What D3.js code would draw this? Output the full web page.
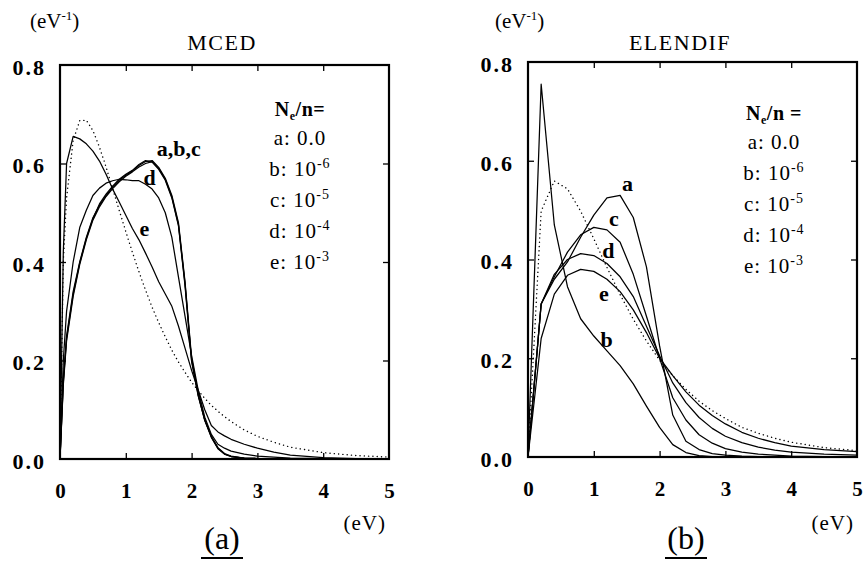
<!DOCTYPE html>
<html>
<head>
<meta charset="utf-8">
<script src="https://cdn.jsdelivr.net/npm/d3@7"></script>
<style>
  html, body { margin: 0; padding: 0; background: #fff; }
  svg { display: block; }
</style>
</head>
<body>
<svg id="chart" width="864" height="561"></svg>
<script>
// ---------------- DATA ----------------
const xTicks = [0, 1, 2, 3, 4, 5];
const yTicks = [0.0, 0.2, 0.4, 0.6, 0.8];
const yTickLabels = ["0.0", "0.2", "0.4", "0.6", "0.8"];

// Panel (a) MCED: energy grid (eV) and EEDF values (eV^-1)
const mcedE    = [0, 0.05, 0.1, 0.2, 0.3, 0.4, 0.5, 0.6, 0.7, 0.8, 0.9, 1.0, 1.1, 1.2, 1.3, 1.4, 1.5, 1.6, 1.7, 1.8, 1.9, 2.0, 2.1, 2.2, 2.3, 2.4, 2.5, 2.6, 2.8, 3.0, 3.25, 3.5, 4.0, 4.5, 5.0];
const mcedMaxw = [0, 0.40, 0.53, 0.647, 0.687, 0.688, 0.667, 0.633, 0.593, 0.549, 0.505, 0.462, 0.42, 0.38, 0.343, 0.308, 0.277, 0.248, 0.221, 0.197, 0.176, 0.156, 0.139, 0.123, 0.109, 0.097, 0.086, 0.076, 0.059, 0.046, 0.034, 0.024, 0.013, 0.007, 0.004];
const mcedA    = [0, 0.16, 0.25, 0.34, 0.40, 0.45, 0.49, 0.515, 0.535, 0.552, 0.566, 0.576, 0.585, 0.596, 0.604, 0.606, 0.592, 0.570, 0.535, 0.480, 0.360, 0.205, 0.132, 0.080, 0.045, 0.022, 0.010, 0.005, 0.002, 0.001, 0, 0, 0, 0, 0];
const mcedB    = [0, 0.15, 0.24, 0.33, 0.395, 0.445, 0.485, 0.512, 0.533, 0.549, 0.563, 0.574, 0.583, 0.593, 0.600, 0.604, 0.590, 0.568, 0.532, 0.476, 0.356, 0.200, 0.130, 0.078, 0.044, 0.021, 0.010, 0.005, 0.002, 0.001, 0, 0, 0, 0, 0];
const mcedC    = [0, 0.155, 0.245, 0.335, 0.398, 0.448, 0.488, 0.518, 0.538, 0.554, 0.568, 0.578, 0.586, 0.598, 0.606, 0.603, 0.588, 0.566, 0.530, 0.474, 0.352, 0.198, 0.128, 0.079, 0.046, 0.023, 0.011, 0.006, 0.002, 0.001, 0, 0, 0, 0, 0];
const mcedD    = [0, 0.20, 0.30, 0.40, 0.47, 0.505, 0.535, 0.55, 0.56, 0.565, 0.568, 0.567, 0.565, 0.565, 0.558, 0.548, 0.53, 0.50, 0.45, 0.37, 0.29, 0.21, 0.14, 0.085, 0.05, 0.03, 0.022, 0.016, 0.010, 0.006, 0.004, 0.002, 0.001, 0, 0];
const mcedEc   = [0, 0.42, 0.60, 0.655, 0.65, 0.64, 0.625, 0.605, 0.578, 0.548, 0.522, 0.495, 0.468, 0.445, 0.418, 0.39, 0.36, 0.335, 0.31, 0.27, 0.225, 0.18, 0.14, 0.10, 0.068, 0.055, 0.047, 0.040, 0.030, 0.022, 0.014, 0.008, 0.003, 0.001, 0];

// Panel (b) ELENDIF
const elE    = [0, 0.2, 0.4, 0.6, 0.8, 1.0, 1.2, 1.4, 1.6, 1.8, 2.0, 2.2, 2.4, 2.6, 2.8, 3.0, 3.25, 3.5, 3.75, 4.0, 4.5, 5.0];
const elMaxw = [0, 0.498, 0.559, 0.543, 0.498, 0.442, 0.384, 0.329, 0.279, 0.235, 0.196, 0.165, 0.137, 0.113, 0.094, 0.078, 0.060, 0.048, 0.038, 0.030, 0.019, 0.013];
const elA    = [0, 0.31, 0.36, 0.395, 0.445, 0.49, 0.525, 0.53, 0.485, 0.385, 0.225, 0.085, 0.032, 0.015, 0.007, 0.004, 0.002, 0.001, 0, 0, 0, 0];
const elB    = [0, 0.755, 0.47, 0.345, 0.28, 0.245, 0.215, 0.185, 0.148, 0.103, 0.06, 0.025, 0.009, 0.003, 0.001, 0, 0, 0, 0, 0, 0, 0];
const elC    = [0, 0.31, 0.365, 0.415, 0.45, 0.465, 0.46, 0.435, 0.37, 0.285, 0.20, 0.12, 0.075, 0.045, 0.028, 0.017, 0.010, 0.006, 0.004, 0.002, 0.001, 0];
const elD    = [0, 0.31, 0.37, 0.40, 0.412, 0.408, 0.392, 0.365, 0.325, 0.265, 0.205, 0.15, 0.11, 0.08, 0.058, 0.042, 0.029, 0.020, 0.014, 0.010, 0.006, 0.004];
const elEc   = [0, 0.24, 0.33, 0.368, 0.38, 0.376, 0.36, 0.335, 0.298, 0.252, 0.20, 0.165, 0.132, 0.105, 0.084, 0.067, 0.050, 0.038, 0.029, 0.022, 0.015, 0.011];

const legendLines = [["a: 0.0", null], ["b: 10", "-6"], ["c: 10", "-5"], ["d: 10", "-4"], ["e: 10", "-3"]];

// ---------------- DRAW ----------------
const FONT = "Liberation Serif";
const svg = d3.select("#chart");

function zipSeries(E, V) { return E.map((e, i) => [e, V[i]]); }

function txt(sel) { return sel.attr("font-family", FONT).attr("fill", "#000"); }

function panel(cfg) {
  const x = d3.scaleLinear().domain([0, 5]).range(cfg.xr);
  const y = d3.scaleLinear().domain([0, 0.8]).range(cfg.yr);
  const g = svg.append("g");

  // curves
  const line = d3.line().x(d => x(d[0])).y(d => y(d[1]));
  cfg.series.forEach(s => {
    g.append("path")
      .datum(zipSeries(s.e, s.v))
      .attr("d", line)
      .attr("fill", "none")
      .attr("stroke", "#000")
      .attr("stroke-width", s.dotted ? 1.4 : 1.25)
      .attr("stroke-linejoin", "round")
      .attr("stroke-linecap", s.dotted ? "round" : "butt")
      .attr("stroke-dasharray", s.dotted ? "0.1 4.2" : null);
  });

  // inward ticks on all four sides
  const inner = [1, 2, 3, 4];
  const innerY = [0.2, 0.4, 0.6];
  g.append("g").attr("transform", `translate(0,${cfg.yr[0]})`)
    .call(d3.axisBottom(x).tickValues(inner).tickSize(-6).tickFormat(""))
    .call(a => a.select(".domain").remove());
  g.append("g").attr("transform", `translate(0,${cfg.yr[1]})`)
    .call(d3.axisTop(x).tickValues(inner).tickSize(-6).tickFormat(""))
    .call(a => a.select(".domain").remove());
  g.append("g").attr("transform", `translate(${cfg.xr[0]},0)`)
    .call(d3.axisLeft(y).tickValues(innerY).tickSize(-6).tickFormat(""))
    .call(a => a.select(".domain").remove());
  g.append("g").attr("transform", `translate(${cfg.xr[1]},0)`)
    .call(d3.axisRight(y).tickValues(innerY).tickSize(-6).tickFormat(""))
    .call(a => a.select(".domain").remove());
  g.selectAll(".tick line").attr("stroke", "#000").attr("stroke-width", 1.3);

  // frame
  g.append("rect")
    .attr("x", cfg.xr[0]).attr("y", cfg.yr[1])
    .attr("width", cfg.xr[1] - cfg.xr[0]).attr("height", cfg.yr[0] - cfg.yr[1])
    .attr("fill", "none").attr("stroke", "#000").attr("stroke-width", 2.2);

  // tick labels
  const xl = g.append("g").attr("transform", `translate(0,${cfg.yr[0]})`)
    .call(d3.axisBottom(x).tickValues(xTicks).tickSize(0).tickPadding(24).tickFormat(d3.format("d")));
  xl.select(".domain").remove();
  txt(xl.selectAll("text")).attr("font-size", 21).attr("font-weight", "bold");

  const yl = g.append("g").attr("transform", `translate(${cfg.xr[0]},0)`)
    .call(d3.axisLeft(y).tickValues(yTicks).tickSize(0).tickPadding(14).tickFormat((d, i) => yTickLabels[i]));
  yl.select(".domain").remove();
  txt(yl.selectAll("text")).attr("font-size", 22).attr("font-weight", "bold")
    .attr("letter-spacing", "2px").attr("dy", "0.42em");

  // unit labels
  const yu = txt(g.append("text")).attr("x", cfg.yUnitX).attr("y", 28).attr("font-size", 21);
  yu.append("tspan").text("(eV");
  yu.append("tspan").text("-1").attr("font-size", 13).attr("dy", -8);
  yu.append("tspan").text(")").attr("dy", 8);

  txt(g.append("text")).attr("x", cfg.xr[1] - 3).attr("y", 530).attr("text-anchor", "end")
    .attr("font-size", 21).attr("letter-spacing", "1px").text("(eV)");

  // title
  txt(g.append("text")).attr("x", cfg.titleX).attr("y", 50).attr("text-anchor", "middle")
    .attr("font-size", 22).attr("letter-spacing", "1.5px").text(cfg.title);

  // panel letter
  txt(g.append("text")).attr("x", cfg.letterX).attr("y", 549).attr("text-anchor", "middle")
    .attr("font-size", 32).text(cfg.letter);
  g.append("line").attr("x1", cfg.letterX - 21).attr("x2", cfg.letterX + 21)
    .attr("y1", 558).attr("y2", 558).attr("stroke", "#000").attr("stroke-width", 2.2);

  // legend
  const lx = cfg.legendX;
  const h = txt(g.append("text")).attr("x", lx).attr("y", cfg.legendY0).attr("text-anchor", "middle")
    .attr("font-size", 20).attr("font-weight", "bold").attr("letter-spacing", "0.5px");
  h.append("tspan").text("N");
  h.append("tspan").text("e").attr("font-size", 12).attr("dy", 4);
  h.append("tspan").text(cfg.legendTail).attr("dy", -4);
  legendLines.forEach((L, i) => {
    const t = txt(g.append("text")).attr("x", lx).attr("y", cfg.legendY0 + 29 + i * 31)
      .attr("text-anchor", "middle").attr("font-size", 21).attr("letter-spacing", "1px");
    t.append("tspan").text(L[0]);
    if (L[1]) t.append("tspan").text(L[1]).attr("font-size", 14).attr("dy", -8);
  });

  // curve labels
  cfg.curveLabels.forEach(c => {
    txt(g.append("text")).attr("x", x(c[1])).attr("y", y(c[2]))
      .attr("font-size", 22).attr("font-weight", "bold").text(c[0]);
  });
}

panel({
  xr: [60, 389], yr: [459, 65],
  title: "MCED", titleX: 222, letter: "(a)", letterX: 222, yUnitX: 30,
  legendX: 300, legendY0: 116, legendTail: "/n=",
  series: [
    { e: mcedE, v: mcedMaxw, dotted: true },
    { e: mcedE, v: mcedA }, { e: mcedE, v: mcedB }, { e: mcedE, v: mcedC },
    { e: mcedE, v: mcedD }, { e: mcedE, v: mcedEc }
  ],
  curveLabels: [["a,b,c", 1.47, 0.615], ["d", 1.27, 0.556], ["e", 1.21, 0.452]]
});

panel({
  xr: [528, 857], yr: [457, 62],
  title: "ELENDIF", titleX: 680, letter: "(b)", letterX: 686, yUnitX: 495,
  legendX: 774, legendY0: 120, legendTail: "/n =",
  series: [
    { e: elE, v: elMaxw, dotted: true },
    { e: elE, v: elA }, { e: elE, v: elB }, { e: elE, v: elC },
    { e: elE, v: elD }, { e: elE, v: elEc }
  ],
  curveLabels: [["a", 1.43, 0.539], ["c", 1.23, 0.468], ["d", 1.13, 0.403], ["e", 1.08, 0.316], ["b", 1.10, 0.223]]
});
</script>
</body>
</html>
